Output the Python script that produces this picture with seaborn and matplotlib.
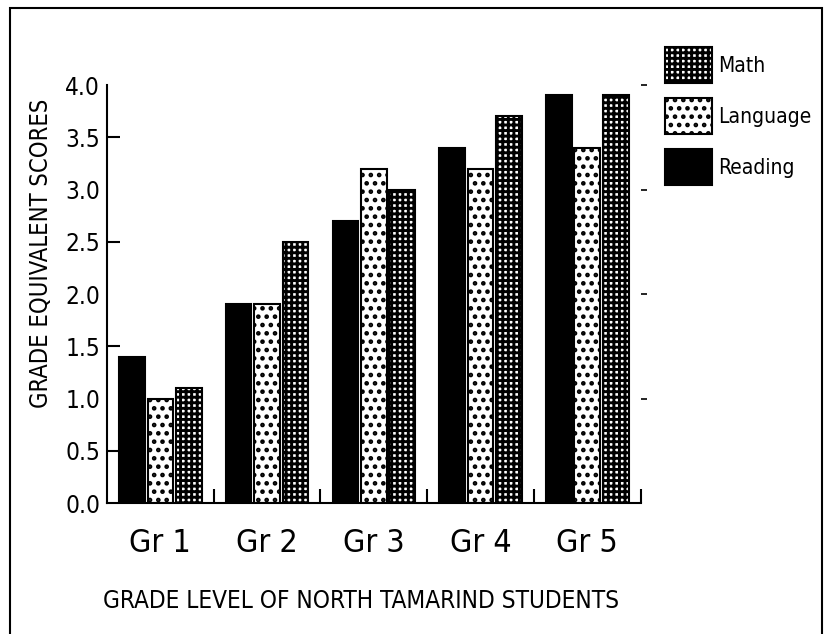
import matplotlib
matplotlib.use("Agg")
import matplotlib.pyplot as plt
import seaborn as sns
import pandas as pd
from matplotlib.patches import Rectangle
from matplotlib.ticker import FixedLocator

grades = ['Gr 1', 'Gr 2', 'Gr 3', 'Gr 4', 'Gr 5']
subjects = ['Reading', 'Language', 'Math']
reading = [1.4, 1.9, 2.7, 3.4, 3.9]
language = [1.0, 1.9, 3.2, 3.2, 3.4]
math = [1.1, 2.5, 3.0, 3.7, 3.9]
y_labels = ['0.0', '0.5', '1.0', '1.5', '2.0', '2.5', '3.0', '3.5', '4.0']

df = pd.DataFrame({
    'grade': grades * 3,
    'subject': [s for s in subjects for _ in grades],
    'score': reading + language + math,
})

sns.set_theme(style='white')
plt.rcParams['font.family'] = ['DejaVu Sans']
plt.rcParams['font.stretch'] = 'condensed'
plt.rcParams['hatch.linewidth'] = 2.1
for key in ['text.color', 'axes.labelcolor', 'xtick.color', 'ytick.color']:
    plt.rcParams[key] = 'black'

fig = plt.figure(figsize=(8.3, 6.34), dpi=100)
ax = fig.add_axes([0.1289, 0.2066, 0.643, 0.6593])

sns.barplot(data=df, x='grade', y='score', hue='subject', hue_order=subjects,
            order=grades, width=0.8, gap=0.1, ax=ax, legend=False,
            edgecolor='black', linewidth=1.5)

styles = {'Reading': ('black', ''), 'Language': ('white', '..'), 'Math': ('white', '+++')}
for cont, subj in zip(ax.containers, subjects):
    fc, hatch = styles[subj]
    for p in cont.patches:
        p.set_facecolor(fc)
        p.set_edgecolor('black')
        p.set_hatch(hatch)
        p.set_linewidth(1.5)

ax.set_xlim(-0.5, 4.5)
ax.set_ylim(0, 4.0)

for side in ['top', 'right']:
    ax.spines[side].set_visible(False)
for side in ['left', 'bottom']:
    ax.spines[side].set_color('black')
    ax.spines[side].set_linewidth(1.5)

# y ticks: labels every 0.5, marks only at the odd halves
ax.yaxis.set_major_locator(FixedLocator([i * 0.5 for i in range(9)]))
ax.set_yticklabels(y_labels, fontsize=17.5)
ax.yaxis.set_minor_locator(FixedLocator([0.5, 1.5, 2.5, 3.5]))
ax.yaxis.remove_overlapping_locs = False
ax.tick_params(axis='y', which='major', length=0, pad=5, left=True)
ax.tick_params(axis='y', which='minor', direction='in', length=9, width=1.5,
               color='black', left=True)

# x ticks: labels at groups, marks at group boundaries
ax.set_xticks(range(len(grades)))
ax.set_xticklabels(grades, fontsize=23)
ax.xaxis.set_minor_locator(FixedLocator([0.5, 1.5, 2.5, 3.5, 4.5]))
ax.tick_params(axis='x', which='major', length=0, pad=18, bottom=True)
ax.tick_params(axis='x', which='minor', direction='in', length=10, width=1.5,
               color='black', bottom=True)

ax.set_xlabel('')
ax.set_ylabel('GRADE EQUIVALENT SCORES', fontsize=17)
ax.yaxis.set_label_coords(-0.101, 0.598)

fig.text(361 / 830, 1 - 601 / 634, 'GRADE LEVEL OF NORTH TAMARIND STUDENTS',
         ha='center', va='center', fontsize=17.5)

# legend in reverse order: Math, Language, Reading
handles = [c.patches[0] for c in ax.containers][::-1]
fig.legend(handles, subjects[::-1], loc='upper left',
           bbox_to_anchor=(665 / 830, 1 - 47 / 634), frameon=False,
           fontsize=15, handlelength=2.26, handleheight=2.29,
           handletextpad=0.3, labelspacing=0.72, borderpad=0,
           borderaxespad=0)

# small marks right of the plot area at whole-grade heights
sec = ax.secondary_yaxis('right')
sec.spines['right'].set_visible(False)
sec.set_yticks([1, 2, 3, 4])
sec.tick_params(length=4, width=1.2, labelright=False, pad=0)

# outer frame
fig.patches.append(Rectangle((10 / 830, -0.05), 812 / 830, 1 - 8 / 634 + 0.05,
                             transform=fig.transFigure, fill=False,
                             edgecolor='black', linewidth=1.5, clip_on=False))

fig.savefig('out.png', dpi=100)
